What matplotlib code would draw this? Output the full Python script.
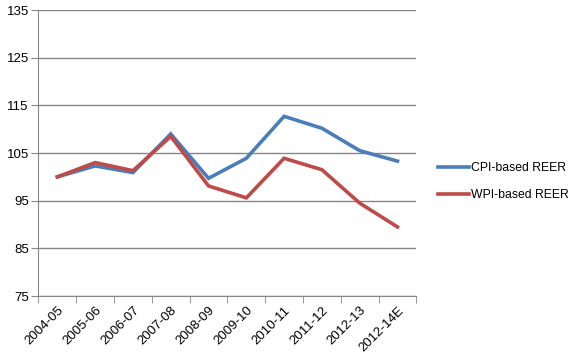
import matplotlib
matplotlib.use("Agg")
import matplotlib.pyplot as plt

years = ["2004-05", "2005-06", "2006-07", "2007-08", "2008-09",
         "2009-10", "2010-11", "2011-12", "2012-13", "2012-14E"]
cpi_reer = [100.0, 102.3, 100.9, 109.0, 99.7, 103.9, 112.7, 110.2, 105.5, 103.3]
wpi_reer = [100.0, 103.0, 101.3, 108.5, 98.1, 95.6, 103.9, 101.5, 94.5, 89.5]
yticks = [75, 85, 95, 105, 115, 125, 135]

plt.rcParams["font.family"] = ["Liberation Sans", "DejaVu Sans"]
grey = "#868686"

fig = plt.figure(figsize=(5.7, 3.58), dpi=100)
ax = fig.add_axes([0.0675, 0.173, 0.663, 0.799])

x = range(len(years))
ax.plot(x, cpi_reer, color="#4A7EBB", lw=2.6, label="CPI-based REER", solid_joinstyle="miter")
ax.plot(x, wpi_reer, color="#BE4B48", lw=2.6, label="WPI-based REER", solid_joinstyle="miter")

ax.set_xlim(-0.5, len(years) - 0.5)
ax.set_ylim(75, 135)
ax.set_yticks(yticks)
ax.set_yticklabels([str(v) for v in yticks], fontsize=9.5)
ax.yaxis.grid(True, color=grey, lw=1)
ax.set_axisbelow(True)

# category labels centred on points, tick marks between categories
ax.set_xticks(list(x))
ax.set_xticklabels(years, rotation=45, ha="right", rotation_mode="anchor", fontsize=9.5)
ax.tick_params(axis="x", which="major", length=0, pad=6)
ax.set_xticks([i - 0.5 for i in range(len(years) + 1)], minor=True)
ax.tick_params(axis="x", which="minor", length=5, color=grey, direction="out")
ax.tick_params(axis="y", length=5, color=grey, direction="out", pad=2)

for s in ["top", "right"]:
    ax.spines[s].set_visible(False)
for s in ["left", "bottom"]:
    ax.spines[s].set_color(grey)

ax.legend(loc="center left", bbox_to_anchor=(1.056, 0.40), frameon=False,
          borderpad=0, borderaxespad=0, fontsize=8.8, handlelength=2.6,
          handletextpad=0.15, labelspacing=1.2)

fig.savefig("out.png", dpi=100)
